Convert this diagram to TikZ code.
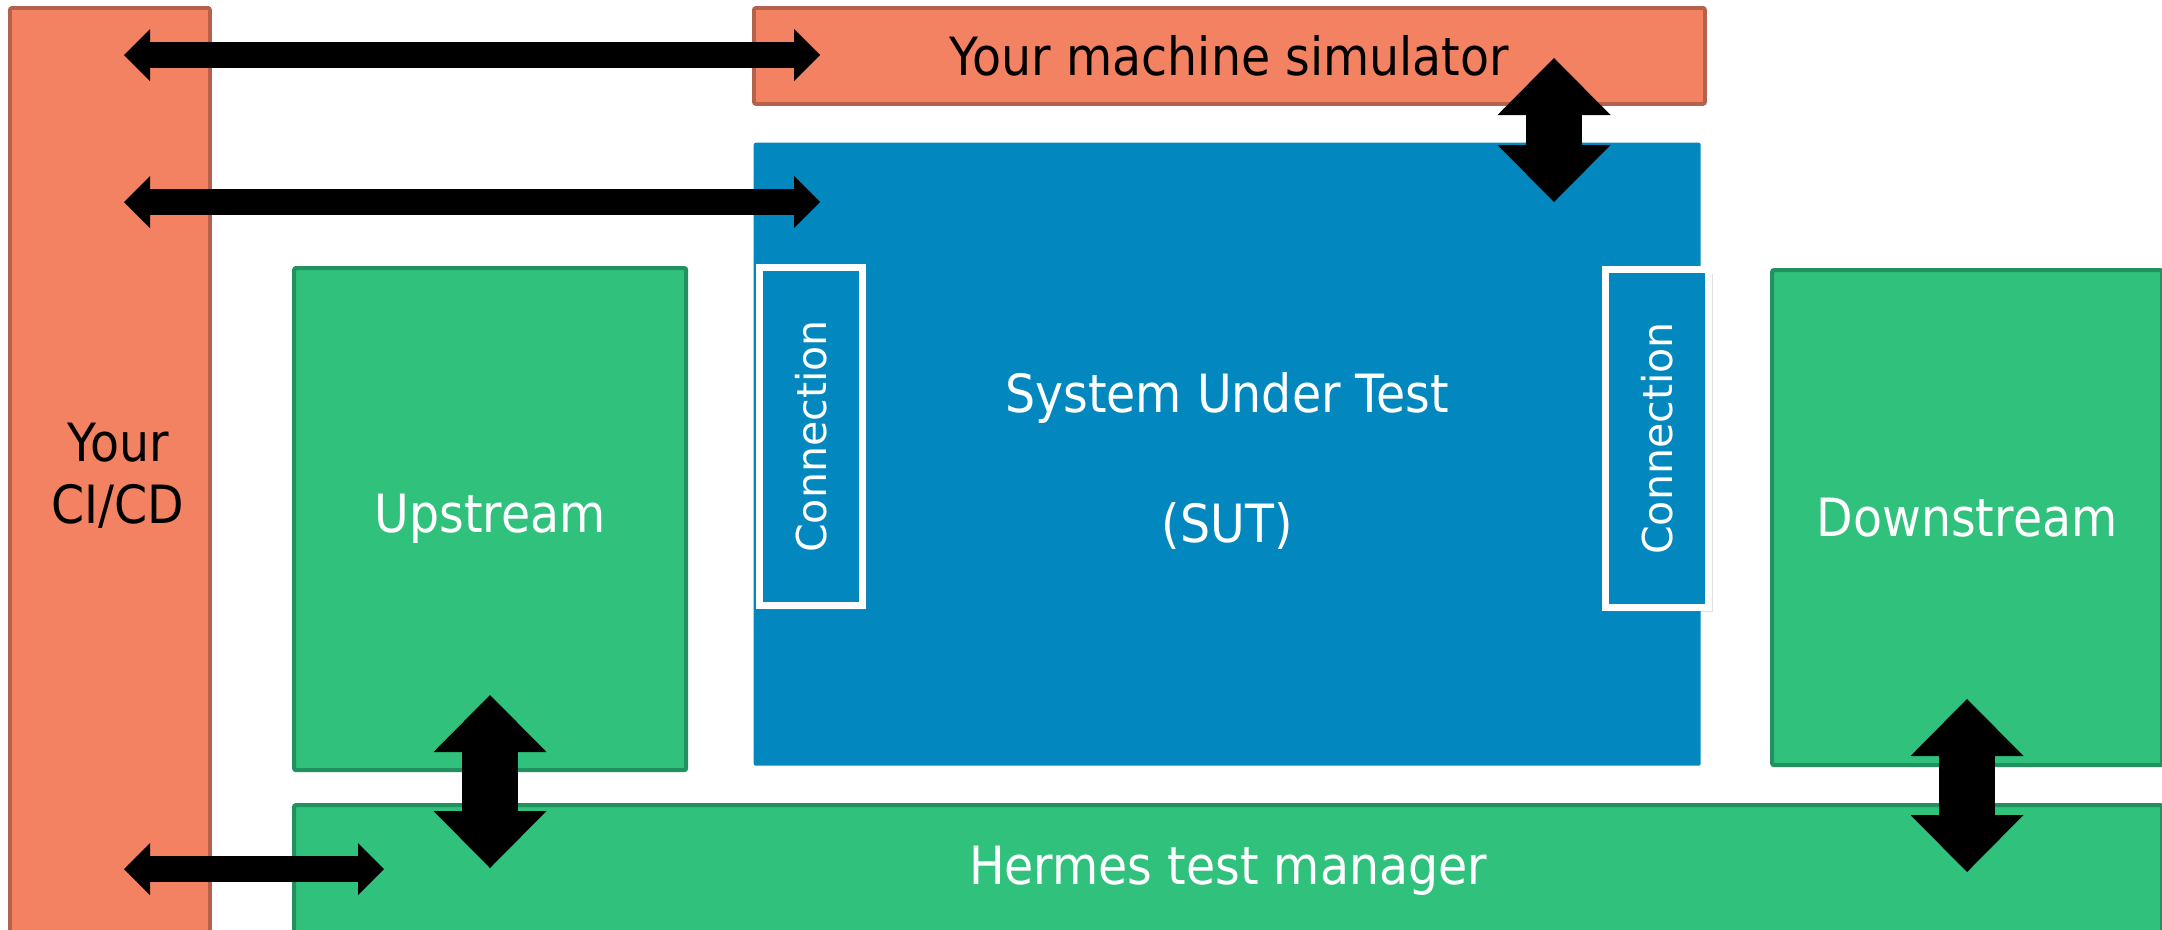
\documentclass[tikz,border=0pt]{standalone}
\usepackage{fontspec}
\setmainfont{DejaVu Sans}
\newfontfamily\condfont{DejaVu Sans}[FakeStretch=0.9]
\usetikzlibrary{arrows.meta,shadows}

\definecolor{salmon}{RGB}{243,130,99}
\definecolor{salmonline}{RGB}{181,97,75}
\definecolor{mint}{RGB}{48,194,124}
\definecolor{mintline}{RGB}{33,145,96}
\definecolor{sutblue}{RGB}{2,136,191}

\tikzset{
  box/.style={anchor=north west, inner sep=0pt, rounded corners=0.6pt,
    font=\condfont\fontsize{15}{17.6}\selectfont, align=center},
  outside/.style={box, fill=salmon, draw=salmonline, line width=1.1pt},
  harness/.style={box, fill=mint, draw=mintline, line width=1.2pt, text=white},
  conn/.style={anchor=north west, fill=sutblue, draw=white, line width=2pt,
    inner sep=0pt, text=white, font=\fontsize{11.7}{14}\selectfont,
    drop shadow={shadow xshift=0.4mm, shadow yshift=-0.4mm, opacity=0.25}},
  link/.style={line width=0.26cm,
    {Triangle[length=2.6mm,width=5.2mm,line width=0pt]}-{Triangle[length=2.6mm,width=5.2mm,line width=0pt]}},
  bigLink/.style={line width=0.56cm,
    {Triangle[length=5.7mm,width=11.3mm,line width=0pt]}-{Triangle[length=5.7mm,width=11.3mm,line width=0pt]}}
}

\begin{document}
\begin{tikzpicture}
  \useasboundingbox (0,0) rectangle (21.62,-9.29);

  % boxes
  \node[outside, minimum width=2.0cm, minimum height=9.35cm] (cicd) at (0.08,-0.06)
    {\hspace*{0.16cm}Your\\\hspace*{0.16cm}CI/CD};
  \node[outside, minimum width=9.51cm, minimum height=0.96cm] (sim) at (7.52,-0.06) {Your machine simulator};
  \node[box, fill=sutblue, minimum width=9.47cm, minimum height=6.23cm] (sut) at (7.53,-1.42) {};
  \node[text=white, align=center, font=\condfont\fontsize{15}{17.6}\selectfont]
    at ([yshift=-0.07cm]sut.center) {System Under Test\\[0.68cm](SUT)};
  \node[conn, minimum width=1.03cm, minimum height=3.38cm] (lconn) at (7.56,-2.64) {};
  \node[rotate=90, text=white, font=\fontsize{11.7}{14}\selectfont] at (lconn.center) {Connection};
  \node[conn, minimum width=1.03cm, minimum height=3.38cm] (rconn) at (16.02,-2.66) {};
  \node[rotate=90, text=white, font=\fontsize{11.7}{14}\selectfont] at (rconn.center) {Connection};
  \node[harness, minimum width=3.92cm, minimum height=5.02cm] (up) at (2.92,-2.66) {Upstream};
  \node[harness, minimum width=3.90cm, minimum height=4.95cm] (down) at (17.70,-2.68) {Downstream};
  \node[harness, minimum width=18.68cm, minimum height=1.32cm] (hermes) at (2.92,-8.03) {Hermes test manager};

  % arrow ends
  \coordinate (ci top)   at (1.24,-0.55);
  \coordinate (sim port) at (8.20,-0.55);
  \coordinate (ci mid)   at (1.24,-2.02);
  \coordinate (sut port) at (8.20,-2.02);
  \coordinate (ci low)   at (1.24,-8.69);
  \coordinate (hm port)  at (3.84,-8.69);
  \coordinate (sim out)  at (15.54,-0.58);
  \coordinate (sut in)   at (15.54,-2.02);
  \coordinate (up out)   at (4.90,-6.95);
  \coordinate (hm up)    at (4.90,-8.68);
  \coordinate (down out) at (19.67,-6.99);
  \coordinate (hm down)  at (19.67,-8.72);

  % links
  \draw[link] (ci top) -- (sim port);
  \draw[link] (ci mid) -- (sut port);
  \draw[link] (ci low) -- (hm port);
  \draw[bigLink] (sim out) -- (sut in);
  \draw[bigLink] (up out) -- (hm up);
  \draw[bigLink] (down out) -- (hm down);
\end{tikzpicture}
\end{document}
